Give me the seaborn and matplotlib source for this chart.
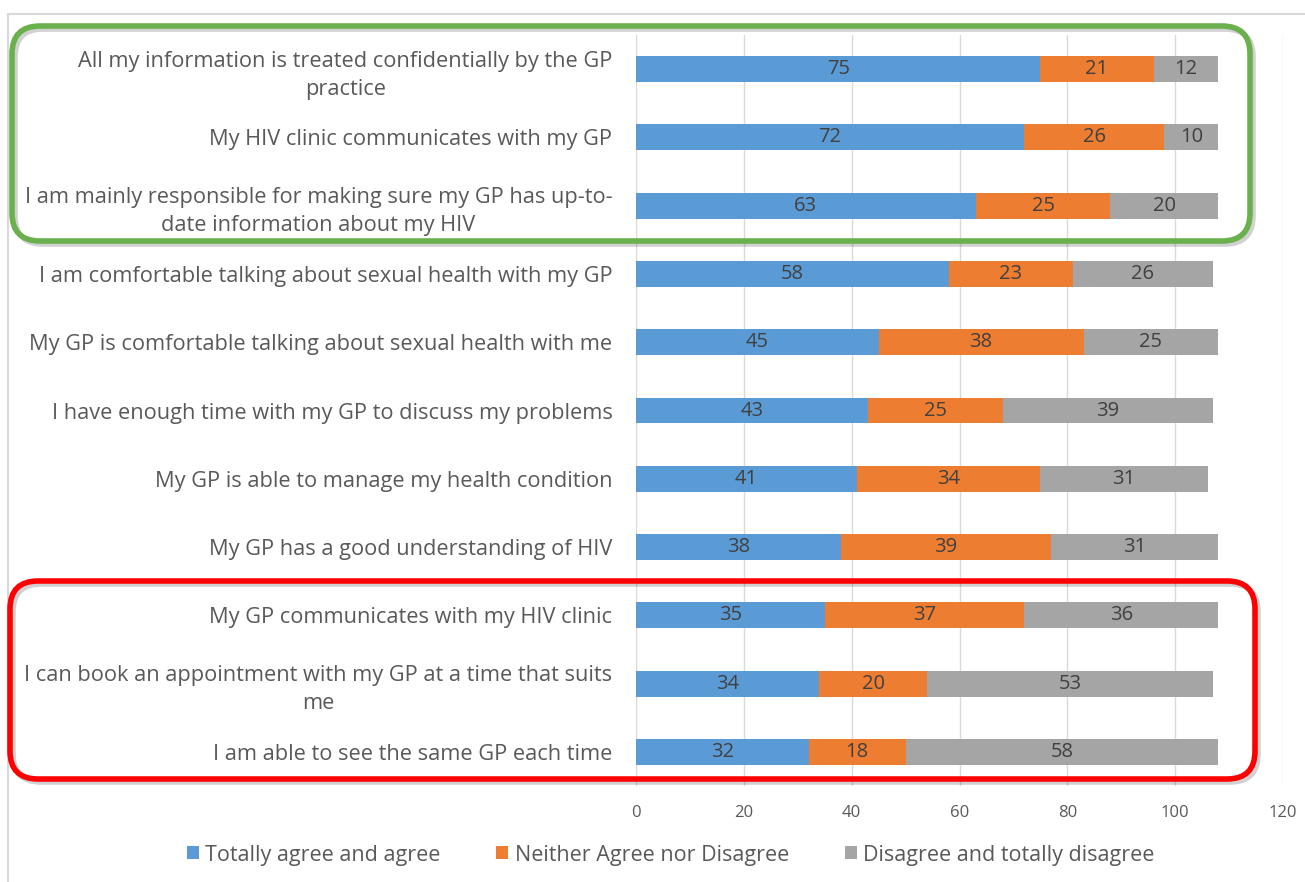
import matplotlib
matplotlib.use("Agg")
import matplotlib.pyplot as plt
import matplotlib.transforms as mtransforms
from matplotlib.patches import FancyBboxPatch, Patch, Rectangle
import numpy as np
import pandas as pd
import seaborn as sns

# Chart data (top to bottom)
statements = [
    "All my information is treated confidentially by the GP\npractice",
    "My HIV clinic communicates with my GP",
    "I am mainly responsible for making sure my GP has up-to-\ndate information about my HIV",
    "I am comfortable talking about sexual health with my GP",
    "My GP is comfortable talking about sexual health with me",
    "I have enough time with my GP to discuss my problems",
    "My GP is able to manage my health condition",
    "My GP has a good understanding of HIV",
    "My GP communicates with my HIV clinic",
    "I can book an appointment with my GP at a time that suits\nme",
    "I am able to see the same GP each time",
]
agree = [75, 72, 63, 58, 45, 43, 41, 38, 35, 34, 32]
neither = [21, 26, 25, 23, 38, 25, 34, 39, 37, 20, 18]
disagree = [12, 10, 20, 26, 25, 39, 31, 31, 36, 53, 58]
series_names = ["Totally agree and agree", "Neither Agree nor Disagree",
                "Disagree and totally disagree"]
colors = ["#5B9BD5", "#ED7D31", "#A5A5A5"]

df = pd.DataFrame({"statement": statements, "agree": agree,
                   "neither": neither, "disagree": disagree})
df["cum1"] = df["agree"]
df["cum2"] = df["agree"] + df["neither"]
df["cum3"] = df["cum2"] + df["disagree"]

sns.set_theme(style="white")
plt.rcParams["font.family"] = ["Open Sans", "DejaVu Sans"]
text_col = "#595959"

fig = plt.figure(figsize=(13.05, 8.82), dpi=100)
ax = fig.add_axes([636 / 1305, 1 - 786 / 882, (1283 - 636) / 1305, (786 - 35) / 882])

# stacked bars by overlaying cumulative totals
for col, c in zip(["cum3", "cum2", "cum1"], colors[::-1]):
    sns.barplot(data=df, x=col, y="statement", orient="h", color=c,
                width=0.38, ax=ax, saturation=1, linewidth=0)

# value labels centred in each segment
for i, row in df.iterrows():
    starts = [0, row["cum1"], row["cum2"]]
    for s, v in zip(starts, [row["agree"], row["neither"], row["disagree"]]):
        ax.text(s + v / 2, i, str(v), ha="center", va="center",
                fontsize=14.5, color="#404040")

ax.set_xlim(0, 120)
ax.set_ylim(10.5, -0.5)
ax.set_xticks(range(0, 121, 20))
ax.xaxis.grid(True, color="#D9D9D9", linewidth=1)
ax.set_axisbelow(True)
ax.set_xlabel("")
ax.set_ylabel("")
for sp in ax.spines.values():
    sp.set_visible(False)
ax.tick_params(axis="x", colors=text_col, labelsize=12, length=0, pad=14)
ax.tick_params(axis="y", colors=text_col, labelsize=15.7, length=0, pad=17)
for lab in ax.get_yticklabels():
    lab.set_multialignment("center")
    lab.set_linespacing(1.45)

# chart border
fig.patches.append(Rectangle((8, -10), 1400, 882 - 14 + 10, transform=mtransforms.IdentityTransform(),
                             fill=False, edgecolor="#D9D9D9", linewidth=1.5, figure=fig))

# highlight boxes (pixel coordinates, y up)
def add_box(x0, y_top, x1, y_bot, color):
    ident = mtransforms.IdentityTransform()
    w = x1 - x0
    h = y_bot - y_top
    yb = 882 - y_bot
    shadow = FancyBboxPatch((x0 + 3, yb - 3), w, h, boxstyle="round,pad=0,rounding_size=28",
                            transform=ident, fill=False, edgecolor="#000000", alpha=0.18,
                            linewidth=4, figure=fig)
    box = FancyBboxPatch((x0, yb), w, h, boxstyle="round,pad=0,rounding_size=28",
                         transform=ident, fill=False, edgecolor=color, linewidth=4, figure=fig)
    fig.patches.extend([shadow, box])

add_box(12, 26, 1250, 241, "#6AB04C")
add_box(10, 581, 1255, 779, "#FF0000")

handles = [Patch(facecolor=c, edgecolor="none", label=n) for c, n in zip(colors, series_names)]
fig.legend(handles=handles, loc="center", bbox_to_anchor=(0.514, 1 - 855 / 882), ncol=3,
           frameon=False, fontsize=15.5, handlelength=0.55, handleheight=0.55,
           handletextpad=0.3, columnspacing=2.6, labelcolor=text_col)

fig.savefig("out.png", dpi=100)
